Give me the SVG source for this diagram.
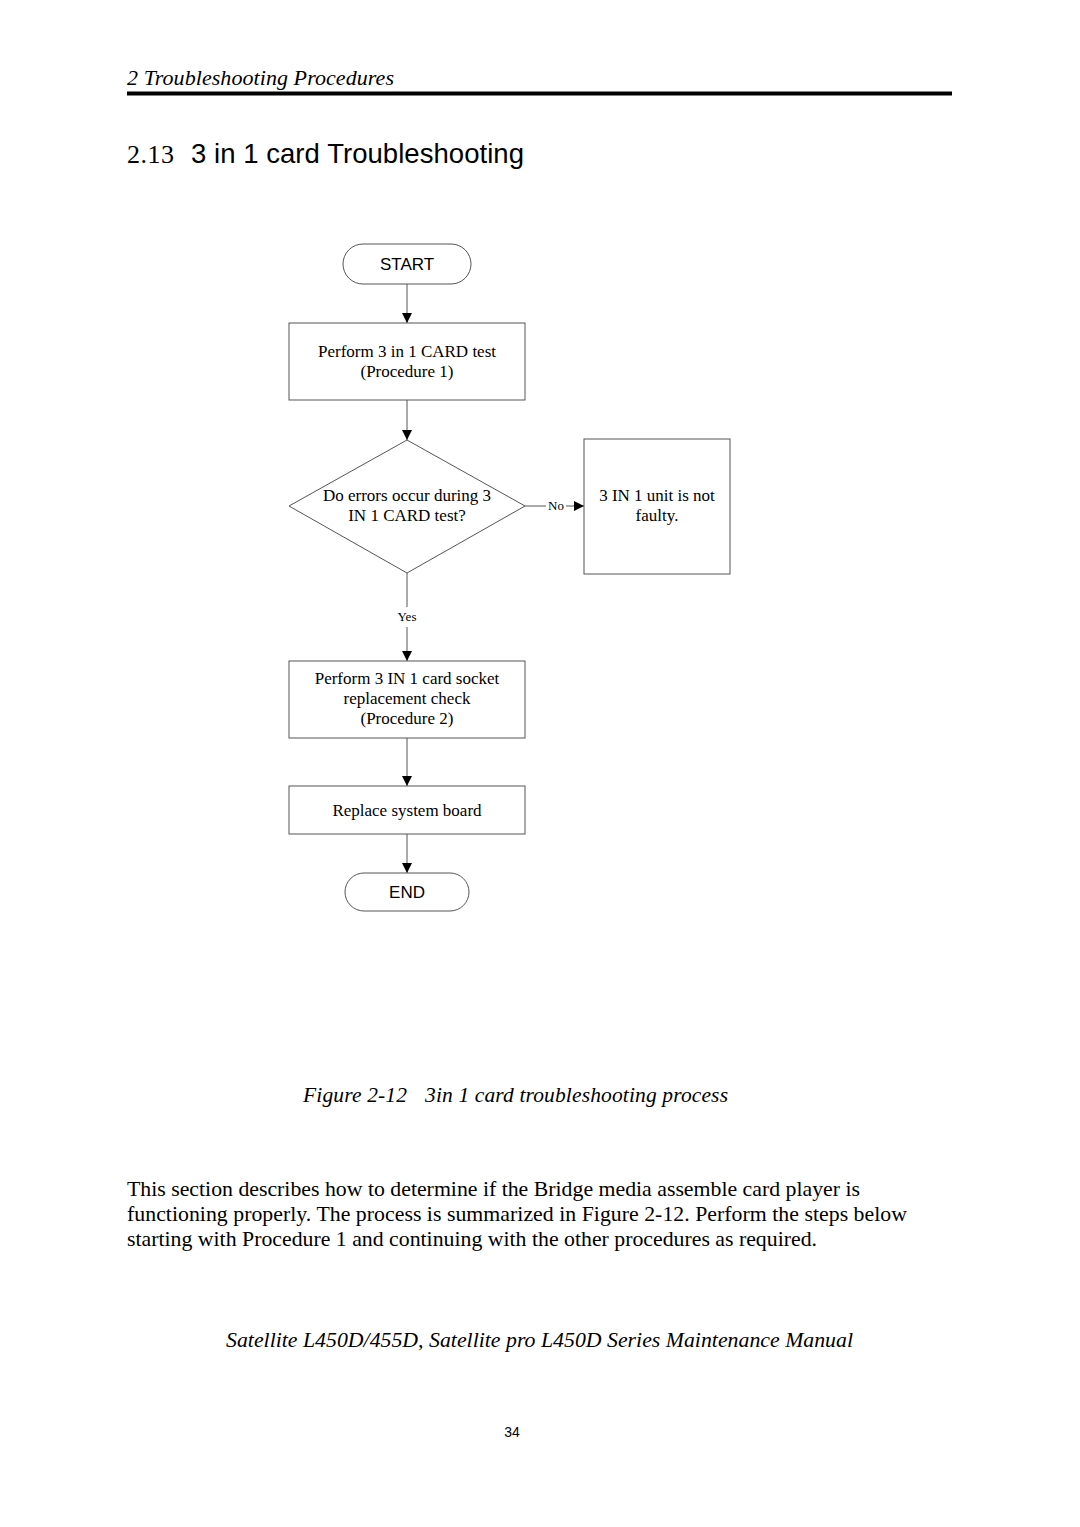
<svg xmlns="http://www.w3.org/2000/svg" width="1080" height="1527" viewBox="0 0 1080 1527">
<style>
.serif{font-family:"Liberation Serif","Times New Roman",serif;fill:#000}
.sans{font-family:"Liberation Sans",Arial,sans-serif;fill:#000}
.node{fill:#fff;stroke:#555;stroke-width:1}
.nt{font-family:"Liberation Serif","Times New Roman",serif;font-size:17px;text-anchor:middle;fill:#000}
.st{font-family:"Liberation Sans",Arial,sans-serif;font-size:17px;text-anchor:middle;fill:#000}
.lbl{font-family:"Liberation Serif","Times New Roman",serif;font-size:13px;text-anchor:middle;fill:#000}
.conn{stroke:#555;stroke-width:1;fill:none}
</style>
<defs>
<marker id="arr" viewBox="0 0 10 10" refX="10" refY="5" markerWidth="10" markerHeight="10" markerUnits="userSpaceOnUse" orient="auto">
<path d="M0,0 L10,5 L0,10 Z" fill="#000"/>
</marker>
</defs>
<rect width="1080" height="1527" fill="#fff"/>
<text class="serif" x="127" y="85" font-size="22" font-style="italic" textLength="267">2 Troubleshooting Procedures</text>
<rect x="127" y="91.5" width="825" height="4" fill="#000"/>
<text class="serif" x="127" y="163" font-size="26" textLength="47">2.13</text>
<text class="sans" x="191" y="163" font-size="27.5" textLength="333">3 in 1 card Troubleshooting</text>

<g id="connectors">
<line class="conn" x1="407" y1="284" x2="407" y2="323" marker-end="url(#arr)"/>
<line class="conn" x1="407" y1="400" x2="407" y2="440" marker-end="url(#arr)"/>
<line class="conn" x1="525" y1="506" x2="546" y2="506"/>
<line class="conn" x1="566" y1="506" x2="584" y2="506" marker-end="url(#arr)"/>
<text class="lbl" x="556" y="510">No</text>
<line class="conn" x1="407" y1="573" x2="407" y2="607"/>
<text class="lbl" x="407" y="621">Yes</text>
<line class="conn" x1="407" y1="627" x2="407" y2="661" marker-end="url(#arr)"/>
<line class="conn" x1="407" y1="738" x2="407" y2="786" marker-end="url(#arr)"/>
<line class="conn" x1="407" y1="834" x2="407" y2="873" marker-end="url(#arr)"/>
</g>

<g id="start">
<rect class="node" x="343" y="244" width="128" height="40" rx="20" ry="20"/>
<text class="st" x="407" y="270">START</text>
</g>
<g id="proc1">
<rect class="node" x="289" y="323" width="236" height="77"/>
<text class="nt" x="407" y="357">Perform 3 in 1 CARD test</text>
<text class="nt" x="407" y="377">(Procedure 1)</text>
</g>
<g id="decision">
<polygon class="node" points="407,440 525,506 407,573 289,506"/>
<text class="nt" x="407" y="501">Do errors occur during 3</text>
<text class="nt" x="407" y="521">IN 1 CARD test?</text>
</g>
<g id="notfaulty">
<rect class="node" x="584" y="439" width="146" height="135"/>
<text class="nt" x="657" y="501">3 IN 1 unit is not</text>
<text class="nt" x="657" y="521">faulty.</text>
</g>
<g id="proc2">
<rect class="node" x="289" y="661" width="236" height="77"/>
<text class="nt" x="407" y="684">Perform 3 IN 1 card socket</text>
<text class="nt" x="407" y="704">replacement check</text>
<text class="nt" x="407" y="724">(Procedure 2)</text>
</g>
<g id="replace">
<rect class="node" x="289" y="786" width="236" height="48"/>
<text class="nt" x="407" y="816">Replace system board</text>
</g>
<g id="end">
<rect class="node" x="345" y="873" width="124" height="38" rx="19" ry="19"/>
<text class="st" x="407" y="898">END</text>
</g>

<text class="serif" y="1102" font-size="21.5" font-style="italic"><tspan x="303" textLength="104">Figure 2-12</tspan><tspan x="425" textLength="303">3in 1 card troubleshooting process</tspan></text>
<text class="serif" font-size="21.8">
<tspan x="127" y="1196" textLength="733">This section describes how to determine if the Bridge media assemble card player is</tspan>
<tspan x="127" y="1221" textLength="780">functioning properly. The process is summarized in Figure 2-12. Perform the steps below</tspan>
<tspan x="127" y="1246" textLength="690">starting with Procedure 1 and continuing with the other procedures as required.</tspan>
</text>
<text class="serif" x="226" y="1347" font-size="21.8" font-style="italic" textLength="627">Satellite L450D/455D, Satellite pro L450D Series Maintenance Manual</text>
<text class="sans" x="512" y="1437" font-size="14" text-anchor="middle">34</text>
</svg>
